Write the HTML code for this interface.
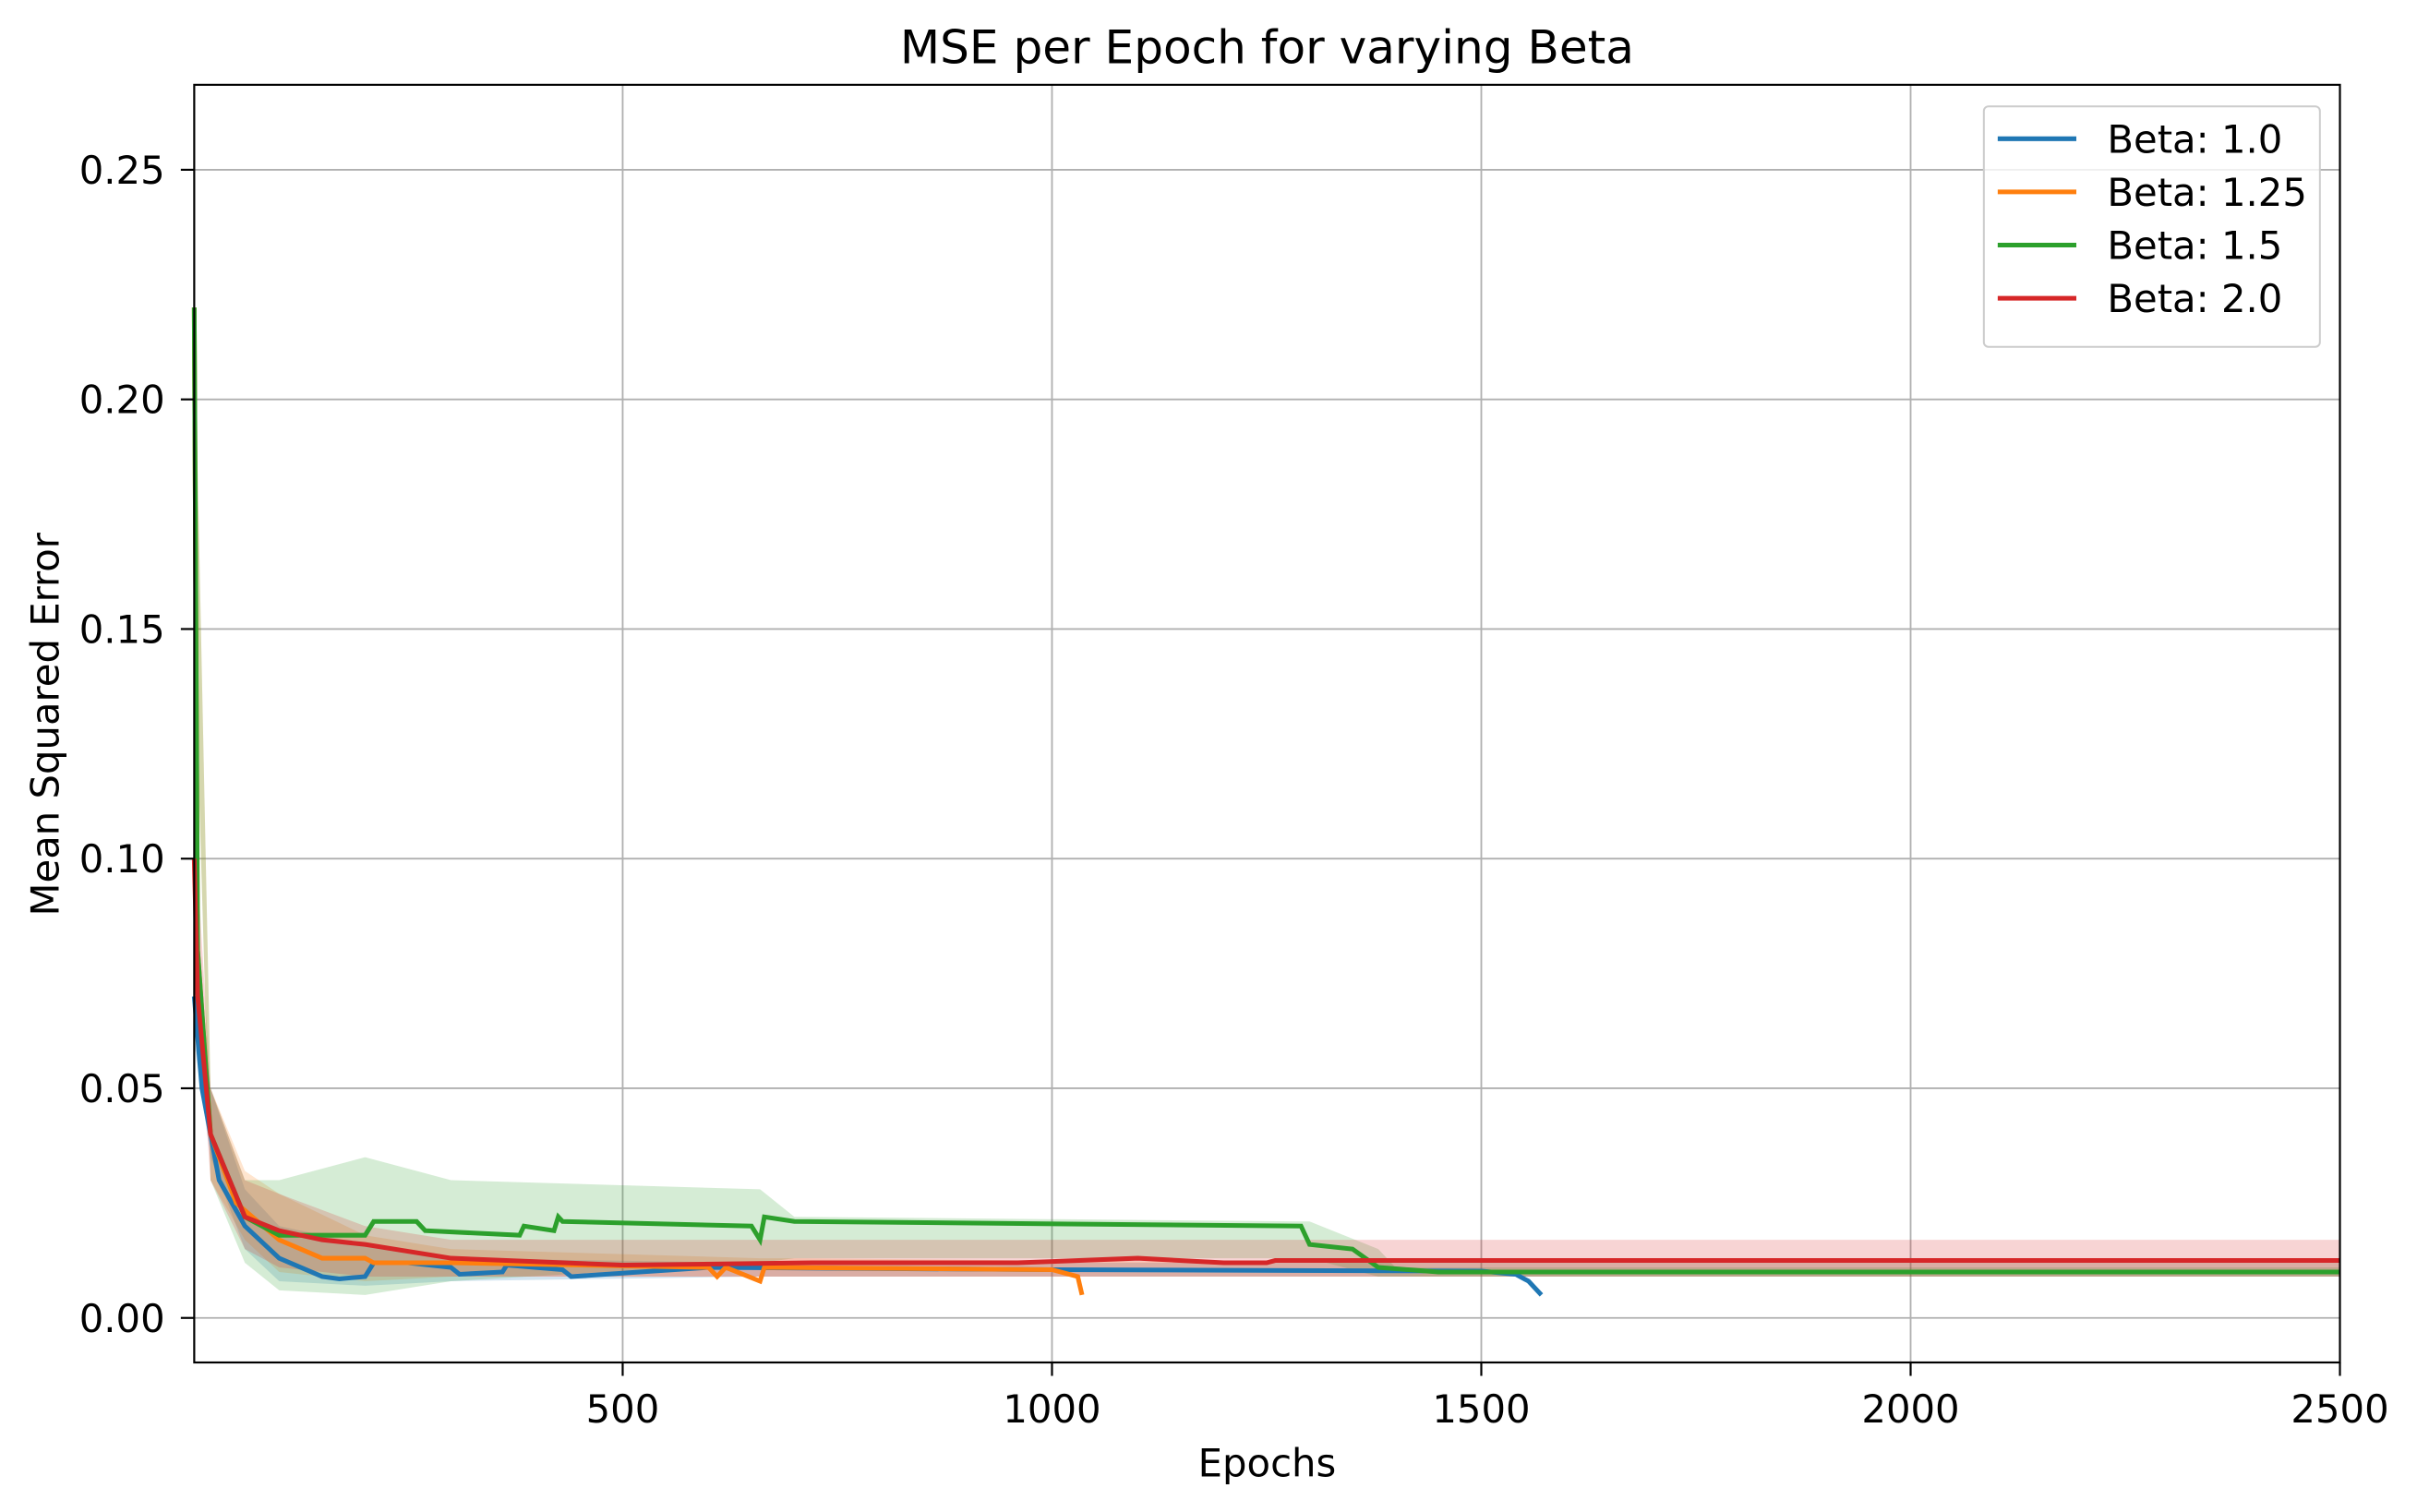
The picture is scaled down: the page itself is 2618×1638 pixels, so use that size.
<!DOCTYPE html>
<html><head><meta charset="utf-8"><style>
html,body{margin:0;padding:0;background:#fff}
svg{display:block;font-family:"DejaVu Sans","Liberation Sans",sans-serif}
</style></head><body>
<svg id="chart" width="2618" height="1638" viewBox="0 0 1568 981" xmlns="http://www.w3.org/2000/svg">
<rect width="1568" height="981" fill="#fff"/>
<g id="grid"></g>
<g id="bands"></g>
<g id="lines"></g>
<rect x="126" y="55" width="1392" height="829" fill="none" stroke="#000" stroke-width="1.3"/>
<g id="ticks"></g>
<text x="822" y="41" text-anchor="middle" font-size="30">MSE per Epoch for varying Beta</text>
<text x="822" y="958" text-anchor="middle" font-size="25">Epochs</text>
<text transform="translate(38,470) rotate(-90)" text-anchor="middle" font-size="25">Mean Squared Error</text>
<g id="legend"></g>
</svg>
<script>
const xTicks=[500,1000,1500,2000,2500];
const yTicks=[0,0.05,0.10,0.15,0.20,0.25];
const yTickLabels=["0.00","0.05","0.10","0.15","0.20","0.25"];
const seriesNames=["Beta: 1.0","Beta: 1.25","Beta: 1.5","Beta: 2.0"];
const seriesColors=["#1f77b4","#ff7f0e","#2ca02c","#d62728"];
const blueX=[1,10,30,60,100,150,170,200,210,250,300,310,360,365,430,440,600,1000,1500,1540,1555,1570];
const blueY=[0.07,0.05,0.03,0.02,0.013,0.009,0.0085,0.009,0.012,0.012,0.011,0.0095,0.010,0.0115,0.0105,0.009,0.011,0.0105,0.0102,0.0095,0.008,0.005];
const orangeX=[1,5,20,50,100,150,200,210,300,600,610,620,660,665,1000,1030,1035];
const orangeY=[0.22,0.08,0.04,0.025,0.017,0.013,0.013,0.012,0.012,0.011,0.009,0.011,0.008,0.011,0.0105,0.009,0.005];
const greenX=[1,5,20,60,100,150,200,210,260,270,380,385,420,425,430,650,660,665,700,1290,1300,1350,1380,1450,2500];
const greenY=[0.22,0.08,0.04,0.022,0.018,0.018,0.018,0.021,0.021,0.019,0.018,0.020,0.019,0.022,0.021,0.020,0.017,0.022,0.021,0.020,0.016,0.015,0.011,0.010,0.010];
const redX=[1,5,20,60,100,150,200,300,500,720,960,1100,1200,1250,1260,2500];
const redY=[0.10,0.07,0.04,0.022,0.019,0.017,0.016,0.013,0.0115,0.012,0.012,0.013,0.012,0.012,0.0125,0.0125];
const bandX=[1,20,60,100,200,300,660,700,1300,1380,1400,2500];
const blueLo=[0.06,0.035,0.015,0.008,0.007,0.008,0.009,0.009,0.009,0.009,0.009,0.009];
const blueHi=[0.08,0.05,0.028,0.02,0.016,0.013,0.012,0.012,0.012,0.012,0.012,0.012];
const orangeLo=[0.15,0.03,0.017,0.01,0.008,0.009,0.009,0.009,0.009,0.009,0.009,0.009];
const orangeHi=[0.22,0.05,0.032,0.027,0.018,0.015,0.013,0.013,0.012,0.012,0.012,0.012];
const greenLo=[0.15,0.03,0.012,0.006,0.005,0.008,0.012,0.013,0.013,0.009,0.009,0.009];
const greenHi=[0.22,0.05,0.03,0.03,0.035,0.03,0.028,0.022,0.021,0.015,0.011,0.011];
const redLo=[0.08,0.03,0.015,0.011,0.009,0.009,0.009,0.009,0.009,0.009,0.009,0.009];
const redHi=[0.11,0.05,0.03,0.027,0.02,0.017,0.017,0.017,0.017,0.017,0.017,0.017];

const L=126,R=1518,T=55,B=884,X0=1,X1=2500,Y0=-0.0097,Y1=0.2685;
const sx=v=>L+(v-X0)/(X1-X0)*(R-L);
const sy=v=>B-(v-Y0)/(Y1-Y0)*(B-T);
const NS="http://www.w3.org/2000/svg";
function mk(tag,parent,attrs){const e=document.createElementNS(NS,tag);for(const k in attrs)e.setAttribute(k,attrs[k]);document.getElementById(parent).appendChild(e);return e;}
xTicks.forEach(t=>{
 const g=mk('line','grid',{x1:sx(t),x2:sx(t),y1:T,y2:B,stroke:'#b0b0b0','stroke-width':1.1});
 
 
 const tk=mk('line','ticks',{x1:sx(t),x2:sx(t),y1:B,y2:B+8.7,stroke:'#000','stroke-width':1.3});
 
 
 const tx=mk('text','ticks',{x:sx(t),y:923,'text-anchor':'middle','font-size':25});
 tx.textContent=t;
 
 
});
yTicks.forEach((t,i)=>{
 const g=mk('line','grid',{x1:L,x2:R,y1:sy(t),y2:sy(t),stroke:'#b0b0b0','stroke-width':1.1});
 
 
 const tk=mk('line','ticks',{x1:L-8.7,x2:L,y1:sy(t),y2:sy(t),stroke:'#000','stroke-width':1.3});
 
 
 const tx=mk('text','ticks',{x:107,y:sy(t)+9,'text-anchor':'end','font-size':25});
 tx.textContent=yTickLabels[i];
 
 
});
const bands=[[blueLo,blueHi],[orangeLo,orangeHi],[greenLo,greenHi],[redLo,redHi]];
bands.forEach((b,i)=>{
 let d='M'+bandX.map((x,j)=>sx(x)+','+sy(b[1][j])).join('L');
 d+='L'+bandX.map((x,j)=>[x,j]).reverse().map(([x,j])=>sx(x)+','+sy(b[0][j])).join('L')+'Z';
 const p=mk('path','bands',{d:d,fill:seriesColors[i],'fill-opacity':0.2,stroke:'none'});
 
 
});
const lines=[[blueX,blueY],[orangeX,orangeY],[greenX,greenY],[redX,redY]];
lines.forEach((s,i)=>{
 const d='M'+s[0].map((x,j)=>sx(x)+','+sy(s[1][j])).join('L');
 const p=mk('path','lines',{d:d,fill:'none',stroke:seriesColors[i],'stroke-width':3});
 
 
});
const bx=mk('rect','legend',{x:1287,y:69,width:218,height:156,rx:3,fill:'#fff','fill-opacity':0.8,stroke:'#ccc','stroke-width':1.2});


seriesNames.forEach((n,i)=>{
 const y=90+i*34.5;
 const l=mk('line','legend',{x1:1296,x2:1347,y1:y,y2:y,stroke:seriesColors[i],'stroke-width':3});
 
 
 const t=mk('text','legend',{x:1367,y:y+9,'font-size':25});
 t.textContent=n;
 
 
});
</script>
</body></html>
